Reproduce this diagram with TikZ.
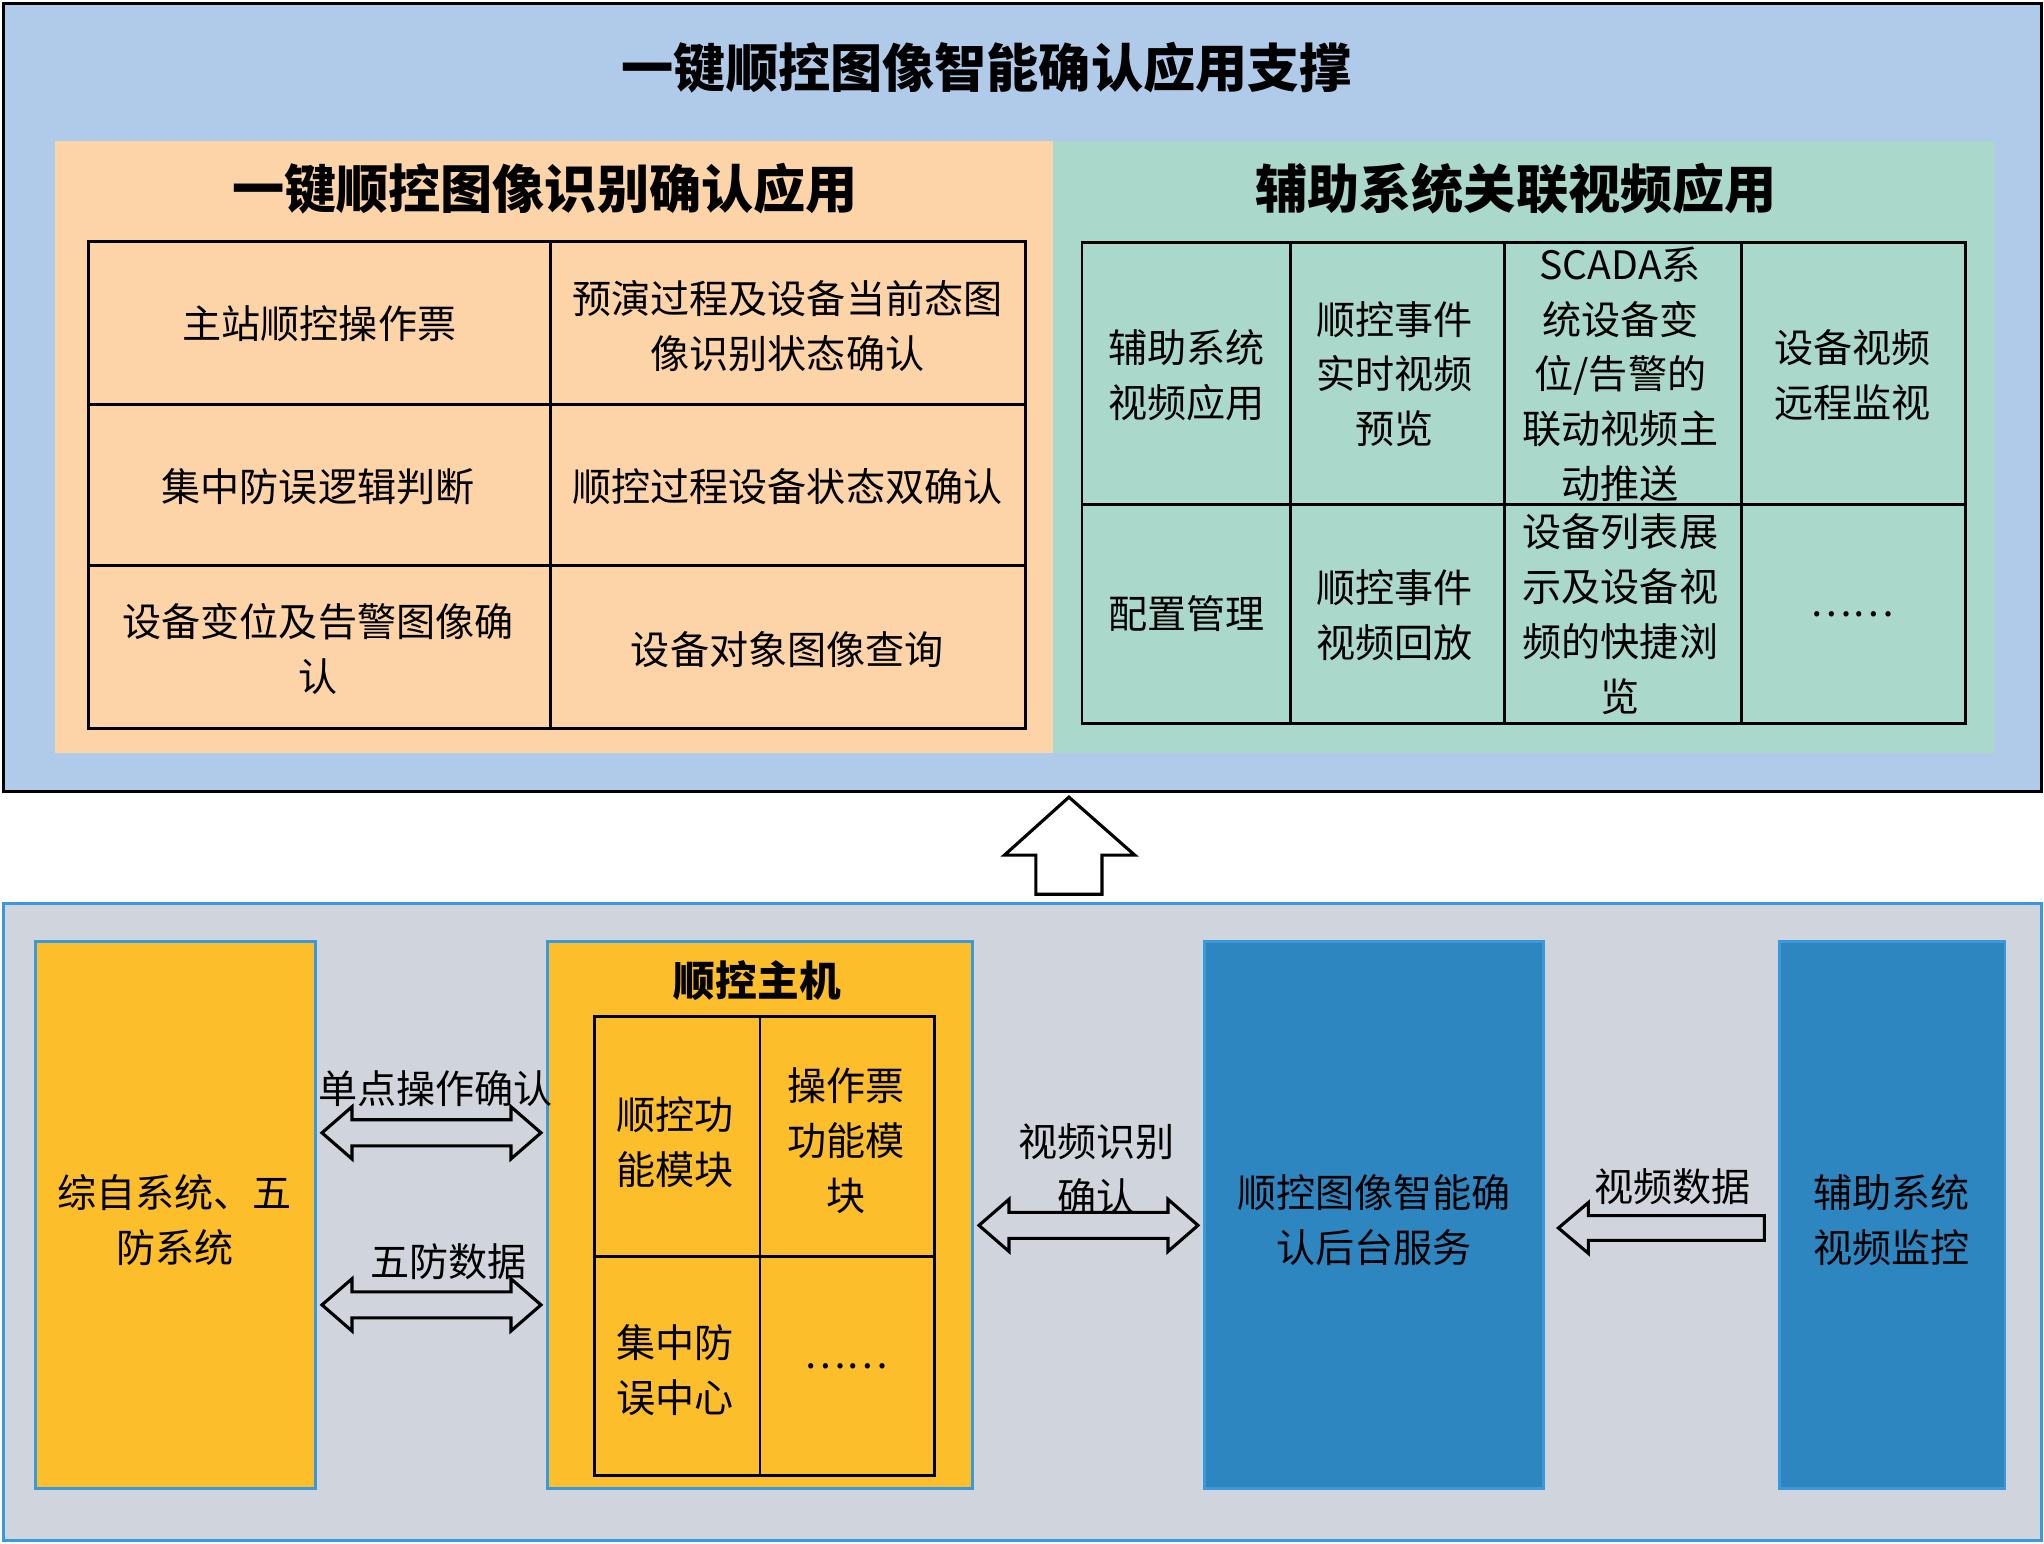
\documentclass[tikz,border=0pt]{standalone}
\usepackage{fontspec}
\setmainfont{Noto Sans CJK SC}
\usetikzlibrary{fit,calc}
\definecolor{topbg}{HTML}{B0CAE9}
\definecolor{orangebg}{HTML}{FCD4A8}
\definecolor{greenbg}{HTML}{AAD8CA}
\definecolor{bottombg}{HTML}{D0D5DD}
\definecolor{bluebord}{HTML}{3A98DC}
\definecolor{orangebox}{HTML}{FDBE2B}
\definecolor{bluebox}{HTML}{2E86C1}
\begin{document}
\begin{tikzpicture}[x=0.5pt,y=-0.5pt,
  area/.style={inner sep=0pt, outer sep=0pt},
  grid/.style={draw=black, line width=1.1pt},
  txt/.style={font=\fontsize{15}{21}\selectfont, align=center, inner sep=0pt},
  ttl/.style={font=\fontsize{20}{26}\selectfont\bfseries, inner sep=0pt},
  blockarrow/.style={draw=black, line width=1.2pt, line join=miter},
  dblarr/.pic={\draw[blockarrow] (-84,0) -- (-61,-20) -- (-61,-10) -- (61,-10) -- (61,-20) -- (84,0) -- (61,20) -- (61,10) -- (-61,10) -- (-61,20) -- cycle;},
  leftarr/.pic={\draw[blockarrow] (-79,0) -- (-56,-19.5) -- (-56,-9.5) -- (79,-9.5) -- (79,9.5) -- (-56,9.5) -- (-56,19.5) -- cycle;}
]
\useasboundingbox (0,0) rectangle (1568,1184);
% ---------- top part ----------
\node[area, fit={(3,3) (1566,607)}, draw=black, line width=1.2pt, fill=topbg] (top) {};
\node[ttl] (toptitle) at (757,52) {一键顺控图像智能确认应用支撑};
\node[area, fit={(42,108) (808,578)}, fill=orangebg] (leftpanel) {};
\node[area, fit={(808,108) (1530,578)}, fill=greenbg] (rightpanel) {};
\node[ttl] (lefttitle) at (418,145) {一键顺控图像识别确认应用};
\node[ttl] (righttitle) at (1163,145) {辅助系统关联视频应用};
% left table
\draw[grid] (68,185) rectangle (787,559);
\draw[grid] (422,185) -- (422,559);
\draw[grid] (68,310) -- (787,310);
\draw[grid] (68,434) -- (787,434);
\node[txt] (c11) at (245,248) {主站顺控操作票};
\node[txt] (c12) at (604,250) {预演过程及设备当前态图\\像识别状态确认};
\node[txt] (c21) at (244,373) {集中防误逻辑判断};
\node[txt] (c22) at (604,373) {顺控过程设备状态双确认};
\node[txt] (c31) at (244,498) {设备变位及告警图像确\\认};
\node[txt] (c32) at (604,498) {设备对象图像查询};
% right table
\draw[grid] (830,186) rectangle (1508,555);
\draw[grid] (990,186) -- (990,555);
\draw[grid] (1154,186) -- (1154,555);
\draw[grid] (1336,186) -- (1336,555);
\draw[grid] (830,387) -- (1508,387);
\node[txt] (r11) at (910,288) {辅助系统\\视频应用};
\node[txt] (r12) at (1070,287) {顺控事件\\实时视频\\预览};
\node[txt] (r13) at (1243,287) {SCADA系\\统设备变\\位/告警的\\联动视频主\\动推送};
\node[txt] (r14) at (1421,288) {设备视频\\远程监视};
\node[txt] (r21) at (910,471) {配置管理};
\node[txt] (r22) at (1070,472) {顺控事件\\视频回放};
\node[txt] (r23) at (1243,471) {设备列表展\\示及设备视\\频的快捷浏\\览};
\node[txt] (r24) at (1421,471) {……};
% ---------- bottom part ----------
\node[area, fit={(3,693) (1566,1182)}, draw=bluebord, line width=1.2pt, fill=bottombg] (bottom) {};
\node[area, fit={(27,722) (242,1142)}, draw=bluebord, line width=1pt, fill=orangebox] (zz) {};
\node[txt] (zztext) at (134,936) {综自系统、五\\防系统};
\node[area, fit={(420,722) (746,1142)}, draw=bluebord, line width=1pt, fill=orangebox] (host) {};
\node[font=\fontsize{16}{20}\selectfont\bfseries, inner sep=0pt] (hosttitle) at (581,752) {顺控主机};
\draw[grid] (456,780) rectangle (717,1132);
\draw[grid] (583,780) -- (583,1132);
\draw[grid] (456,964) -- (717,964);
\node[txt] (h11) at (518,876) {顺控功\\能模块};
\node[txt] (h12) at (649,875) {操作票\\功能模\\块};
\node[txt] (h21) at (518,1051) {集中防\\误中心};
\node[txt] (h22) at (649,1048) {……};
\node[area, fit={(924,722) (1184,1142)}, draw=bluebord, line width=1pt, fill=bluebox] (svc) {};
\node[txt] (svctext) at (1054,936) {顺控图像智能确\\认后台服务};
\node[area, fit={(1365,722) (1538,1142)}, draw=bluebord, line width=1pt, fill=bluebox] (aux) {};
\node[txt] (auxtext) at (1451,936) {辅助系统\\视频监控};
% arrows
\coordinate (m1) at ($(zz.east)!0.5!(host.west)$);
\coordinate (m3) at ($(host.east)!0.5!(svc.west)$);
\coordinate (m4) at ($(svc.east)!0.5!(aux.west)$);
\pic at (m1 |- 0,869) {dblarr};
\pic at (m1 |- 0,1001) {dblarr};
\pic at (m3 |- 0,940) {dblarr};
\pic at (m4 |- 0,942) {leftarr};
\draw[blockarrow, fill=white] (820,611.5) -- (870.5,656) -- (845.4,656) -- (845.4,686) -- (794.6,686) -- (794.6,656) -- (770.5,656) -- cycle;
% labels
\node[txt] (l1) at (334,835) {单点操作确认};
\node[txt] (l2) at (344,968) {五防数据};
\node[txt] (l3) at (841,897) {视频识别\\确认};
\node[txt] (l4) at (1283,910) {视频数据};
\end{tikzpicture}
\end{document}
